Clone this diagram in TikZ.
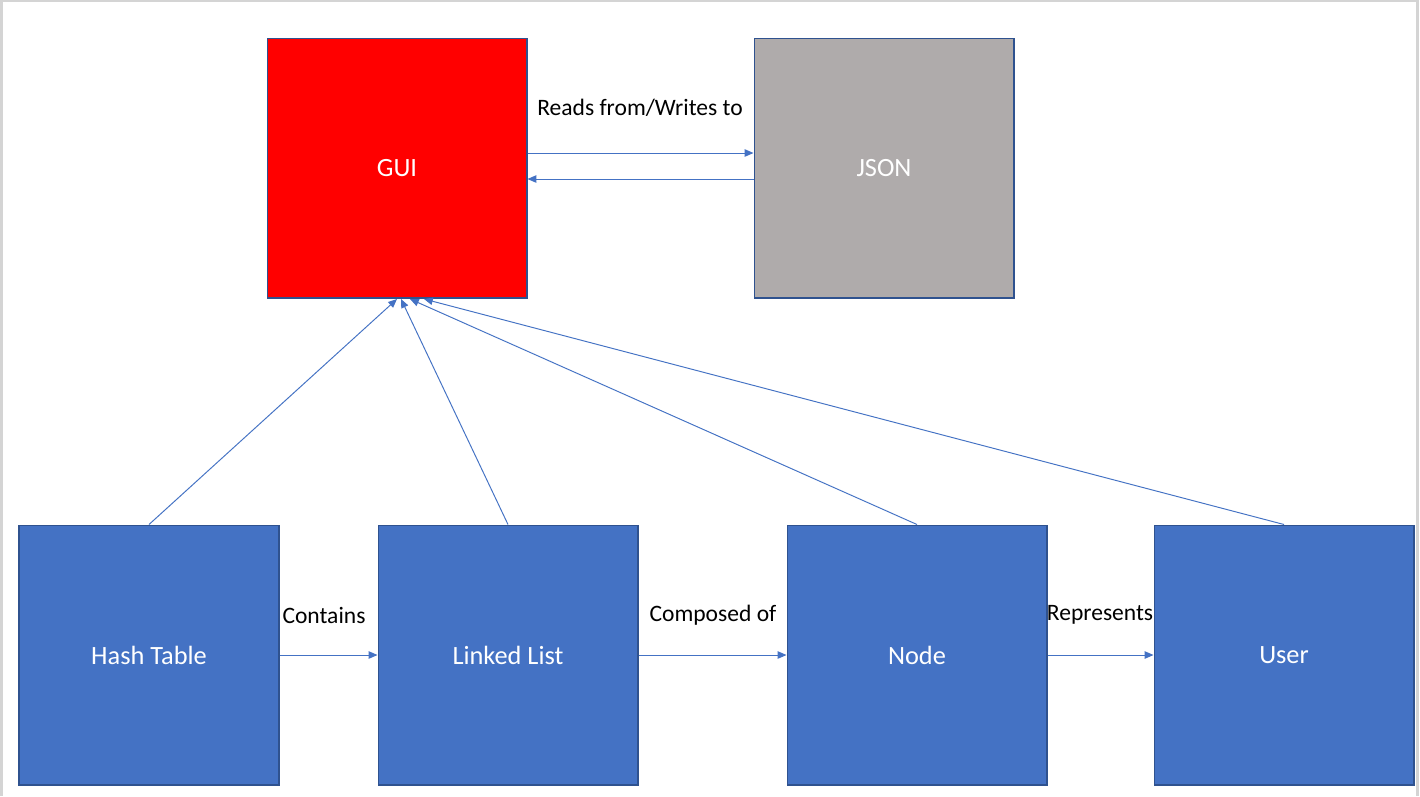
\documentclass[tikz,border=0pt]{standalone}
\usepackage{fontspec}
\setmainfont{Carlito}
\usetikzlibrary{arrows.meta}
\definecolor{boxblue}{HTML}{4472C4}
\definecolor{navy}{HTML}{2F528F}
\definecolor{jsongray}{HTML}{AFABAB}
\definecolor{framegray}{HTML}{D4D4D4}
\definecolor{linkblue}{HTML}{4472C4}
\begin{document}
\begin{tikzpicture}[x=0.02cm,y=-0.02cm,
  box/.style={draw=navy, line width=0.6pt, minimum width=5.2cm, minimum height=5.2cm, inner sep=0pt, text=white, font=\fontsize{15}{18}\selectfont},
  conn/.style={draw=linkblue, line width=0.55pt, -{Triangle[length=5pt,width=4.2pt]}},
  lbl/.style={font=\fontsize{13.4}{16}\selectfont, text=black, inner sep=0pt}
]
\useasboundingbox (0,0) rectangle (1420,796);
\fill[white] (0,0) rectangle (1420,796);
\draw[framegray, line width=1.2pt] (1.5,796) -- (1.5,1) -- (1417.5,1) -- (1417.5,796);

\node[box, fill=red] (gui) at (397,168) {GUI};
\node[box, fill=jsongray] (json) at (884,168) {JSON};
\node[box, fill=boxblue] (ht) at (149,655) {Hash Table};
\node[box, fill=boxblue] (ll) at (508,655) {Linked List};
\node[box, fill=boxblue] (nd) at (917,655) {Node};
\node[box, fill=boxblue] (us) at (1284,655) {User};

\draw[conn] (gui.east |- 0,153) -- (json.west |- 0,153);
\draw[conn] (json.west |- 0,179) -- (gui.east |- 0,179);
\node[lbl] (rw) at (640,108) {Reads from/Writes to};

\draw[conn] (ht.east) -- (ll.west);
\draw[conn] (ll.east) -- (nd.west);
\draw[conn] (nd.east) -- (us.west);
\node[lbl] (c1) at (324,615) {Contains};
\node[lbl] (c2) at (713,615) {Composed of};
\node[lbl] (c3) at (1100,615) {Represents};

\coordinate (g1) at (397,299);
\coordinate (g2) at (401,299);
\coordinate (g3) at (410,299);
\coordinate (g4) at (424,299);
\draw[conn] (ht.north) -- (g1);
\draw[conn] (ll.north) -- (g2);
\draw[conn] (nd.north) -- (g3);
\draw[conn] (us.north) -- (g4);
\end{tikzpicture}
\end{document}
